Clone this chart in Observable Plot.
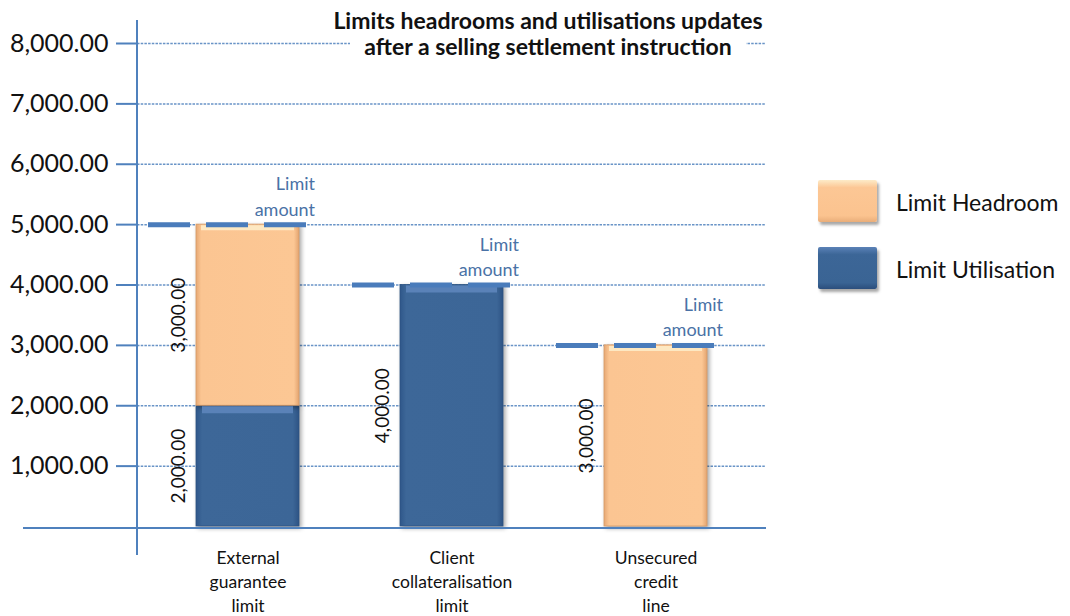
<!DOCTYPE html>
<html>
<head>
<meta charset="utf-8">
<script src="https://cdn.jsdelivr.net/npm/d3@7"></script>
<script src="https://cdn.jsdelivr.net/npm/@observablehq/plot@0.6"></script>
<style>
  html, body { margin: 0; padding: 0; background: #fff; }
  #wrap { position: relative; width: 1070px; height: 616px; font-family: Lato, "Open Sans", sans-serif; }
  #title { position: absolute; left: 350px; width: 396px; top: 7px; text-align: center; font-weight: bold;
           font-size: 23px; line-height: 26px; background: #fff; color: #111; white-space: nowrap; }
  #title span { display: block; margin: 0 -40px; }
  .lg { position: absolute; left: 818px; width: 59px; height: 42px; border-radius: 2px;
        box-shadow: 2px 3px 3px rgba(0,0,0,0.35); }
  .lt { position: absolute; left: 896px; font-size: 23px; line-height: 25px; color: #111; white-space: nowrap; }
</style>
</head>
<body>
<div id="wrap">
  <div id="chart"></div>
  <div id="title"><span>Limits headrooms and utilisations updates</span><span>after a selling settlement instruction</span></div>
  <div class="lg" style="top:180px;background:linear-gradient(#fdebc8 0%,#fcc795 18%,#fbc38f 85%,#e9ad79 100%);"></div>
  <div class="lt" style="top:190px;">Limit Headroom</div>
  <div class="lg" style="top:247px;background:linear-gradient(#5b82b7 0%,#3c6697 18%,#3a6494 85%,#2b4e7c 100%);"></div>
  <div class="lt" style="top:257px;">Limit Utilisation</div>
</div>
<script>
// ---- data ----
const categories = ["External guarantee limit", "Client collateralisation limit", "Unsecured credit line"];
const xLabels = ["External\nguarantee\nlimit", "Client\ncollateralisation\nlimit", "Unsecured\ncredit\nline"];
const utilisation = [2000, 4000, 0];
const headroom = [3000, 0, 3000];
const limitAmount = [5000, 4000, 3000];
const yTicks = [1000, 2000, 3000, 4000, 5000, 6000, 7000, 8000];

const fmt = d3.format(",.2f");

const segments = categories.flatMap((c, i) => [
  {category: c, series: "Limit Utilisation", value: utilisation[i], y1: 0, y2: utilisation[i]},
  {category: c, series: "Limit Headroom", value: headroom[i], y1: utilisation[i], y2: utilisation[i] + headroom[i]}
]).filter(d => d.value > 0);
const utilSeg = segments.filter(d => d.series === "Limit Utilisation");
const headSeg = segments.filter(d => d.series === "Limit Headroom");
const limits = categories.map((c, i) => ({category: c, limit: limitAmount[i]}));

const axisBlue = "#4f81bd";

const plot = Plot.plot({
  width: 1070,
  height: 616,
  marginLeft: 137,
  marginRight: 304,
  marginTop: 43,
  marginBottom: 90,
  style: {fontFamily: "Lato, 'Open Sans', sans-serif", background: "transparent", color: "#111"},
  x: {domain: categories, paddingInner: 0.495, paddingOuter: 0.289, align: 0.5, axis: null},
  y: {domain: [0, 8000], axis: null},
  marks: [
    Plot.gridY(yTicks, {stroke: axisBlue, strokeOpacity: 0.85, strokeWidth: 1.5, strokeDasharray: "2.5,1.2"}),
    Plot.barY(utilSeg, {x: "category", y1: "y1", y2: "y2", fill: "url(#gBlue)", stroke: "#2e5482", strokeWidth: 0.8}),
    Plot.barY(headSeg, {x: "category", y1: "y1", y2: "y2", fill: "url(#gOrange)", stroke: "#d89c67", strokeWidth: 0.8}),
    Plot.tickY(utilSeg, {x: "category", y: "y2", dy: 4, stroke: "#5a82b8", strokeWidth: 7, insetLeft: 6, insetRight: 6}),
    Plot.tickY(headSeg, {x: "category", y: "y2", dy: 3, stroke: "#fde8c2", strokeWidth: 5, insetLeft: 5, insetRight: 5}),
    Plot.ruleY([0], {stroke: axisBlue, strokeWidth: 2, insetLeft: -114, dy: 1.5}),
    Plot.tickY(limits, {x: "category", y: "limit", stroke: "#4a7cbb", strokeWidth: 5, strokeDasharray: "42,16", insetLeft: -48, insetRight: -10}),
    Plot.text(limits, {x: "category", y: "limit", text: () => "Limit\namount", dx: 67, dy: -9,
      textAnchor: "end", lineAnchor: "bottom", lineHeight: 1.4, fontSize: 18, fill: "#4a72a6"}),
    Plot.text(segments, {x: "category", y: d => (d.y1 + d.y2) / 2, text: d => fmt(d.value), rotate: -90,
      dx: -69, fontSize: 19, fill: "#111"}),
    Plot.axisY(yTicks, {tickFormat: fmt, tickSize: 21, tickPadding: 8, stroke: axisBlue, strokeWidth: 2,
      fontSize: 25, fill: "#111"}),
    Plot.axisX({tickSize: 0, tickPadding: 20, fontSize: 17.5, lineHeight: 1.38, fill: "#111", label: null,
      tickFormat: d => xLabels[categories.indexOf(d)]}),
    (index, scales, values, dims) => {
      const g = d3.create("svg:g");
      g.append("line")
        .attr("x1", dims.marginLeft).attr("x2", dims.marginLeft)
        .attr("y1", dims.marginTop - 23).attr("y2", dims.height - dims.marginBottom + 29)
        .attr("stroke", axisBlue).attr("stroke-width", 2);
      return g.node();
    }
  ]
});

// gradients for the bevelled bars
const defs = d3.select(plot).insert("defs", ":first-child");
const gO = defs.append("linearGradient").attr("id", "gOrange").attr("x1", 0).attr("x2", 1).attr("y1", 0).attr("y2", 0);
[["0%", "#e6a874"], ["5%", "#fbc592"], ["95%", "#fcc794"], ["100%", "#e3a470"]].forEach(([o, c]) => gO.append("stop").attr("offset", o).attr("stop-color", c));
const gB = defs.append("linearGradient").attr("id", "gBlue").attr("x1", 0).attr("x2", 1).attr("y1", 0).attr("y2", 0);
[["0%", "#2f578a"], ["6%", "#3d6798"], ["94%", "#3c6697"], ["100%", "#2d5384"]].forEach(([o, c]) => gB.append("stop").attr("offset", o).attr("stop-color", c));

plot.querySelectorAll('g[aria-label="bar"]').forEach(g => g.style.filter = "drop-shadow(2px 2px 2px rgba(0,0,0,0.35))");

document.getElementById("chart").appendChild(plot);
</script>
</body>
</html>
